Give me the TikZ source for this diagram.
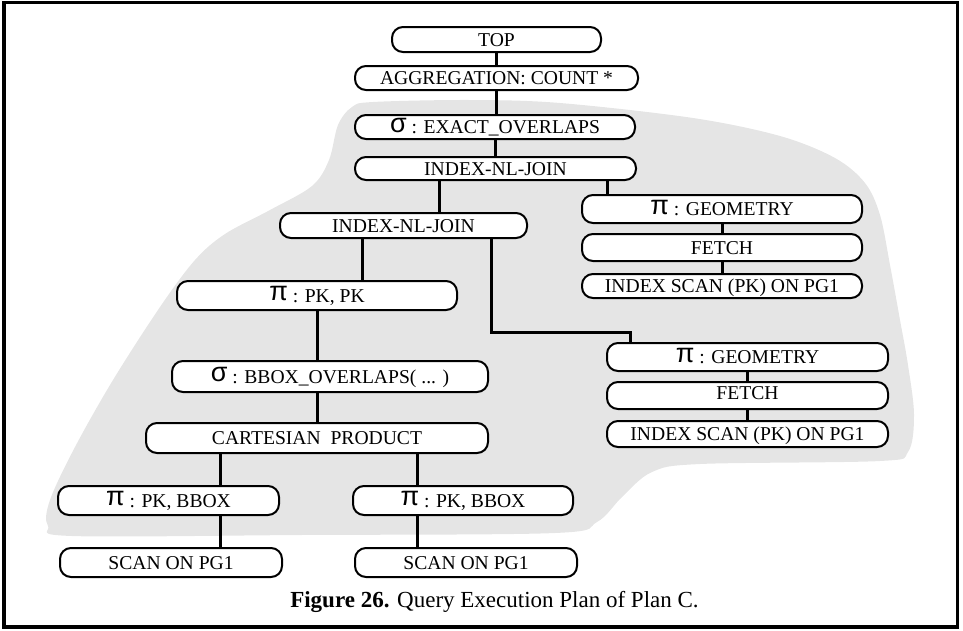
\documentclass[tikz,border=0pt]{standalone}
\usepackage{fontspec}
\setmainfont{Liberation Serif}
\newfontfamily\greekfont{Liberation Sans}
\newcommand{\gpi}{{\greekfont\fontsize{27}{27}\selectfont\raisebox{1.5pt}{π}}}
\newcommand{\gsigma}{{\greekfont\fontsize{27}{27}\selectfont\raisebox{1.5pt}{σ}}}
\begin{document}
\begin{tikzpicture}[x=1pt,y=-1pt,
  opbox/.style={draw, line width=2pt, fill=white, rounded corners=11pt,
    inner sep=0pt, text height=13pt, text depth=0pt,
    font=\fontsize{19.6}{19.6}\selectfont},
  link/.style={line width=3pt},
  outerframe/.style={line width=3.5pt},
  region/.style={fill=black!10}]
\useasboundingbox (0,0) rectangle (963,630);

% shaded region of the plan
\fill[region] plot[smooth cycle, tension=0.55] coordinates {
  (373,102) (470,100) (560,103) (693,118) (780,136) (835,158) (865,183)
  (880,215) (890,265) (900,320) (908,365) (914,415) (908,452) (880,461)
  (700,464) (652,472) (622,497) (597,522) (555,533) (300,535) (72,536)
  (48,526) (50,500) (75,447) (113,380) (160,307) (195,260) (225,234)
  (270,210) (312,186) (329,160) (338,125) (352,107)};

% operators
\node[opbox, minimum width=209pt, minimum height=25pt] (top)    at (496.5,39.5) {TOP};
\node[opbox, minimum width=283pt, minimum height=24pt] (agg)    at (496.5,78)   {AGGREGATION: COUNT *};
\node[opbox, minimum width=280pt, minimum height=24pt] (sige)   at (495,127)    {\gsigma\ : EXACT\_OVERLAPS};
\node[opbox, minimum width=281pt, minimum height=23pt] (inlj)   at (495.5,168.5){INDEX-NL-JOIN};
\node[opbox, minimum width=247pt, minimum height=25pt] (inljb)  at (403.5,225.5){INDEX-NL-JOIN};

\node[opbox, minimum width=280pt, minimum height=28pt] (pigA)   at (722,209)    {\gpi\ : GEOMETRY};
\node[opbox, minimum width=280pt, minimum height=27pt] (fetchA) at (722,247.5)  {FETCH};
\node[opbox, minimum width=280pt, minimum height=24pt] (isA)    at (722,286)    {INDEX SCAN (PK) ON PG1};

\node[opbox, minimum width=281pt, minimum height=28pt] (pigB)   at (747.5,357)  {\gpi\ : GEOMETRY};
\node[opbox, minimum width=281pt, minimum height=27pt, text depth=6pt] (fetchB) at (747.5,395.5){FETCH};
\node[opbox, minimum width=281pt, minimum height=26pt] (isB)    at (747.5,434)  {INDEX SCAN (PK) ON PG1};

\node[opbox, minimum width=280pt, minimum height=29pt] (pipk)   at (317,295.5)  {\gpi\ : PK, PK};
\node[opbox, minimum width=316pt, minimum height=31pt] (sigb)   at (330,376.5)  {\gsigma\ : BBOX\_OVERLAPS( ... )};
\node[opbox, minimum width=342pt, minimum height=30pt] (cart)   at (317,438)    {CARTESIAN~~PRODUCT};
\node[opbox, minimum width=221pt, minimum height=29pt] (pibL)   at (168.5,500.5){\gpi\ : PK, BBOX};
\node[opbox, minimum width=220pt, minimum height=29pt] (pibR)   at (463,500.5)  {\gpi\ : PK, BBOX};
\node[opbox, minimum width=222pt, minimum height=29pt] (scanL)  at (171,562.5)  {SCAN ON PG1};
\node[opbox, minimum width=222pt, minimum height=29pt] (scanR)  at (466,562.5)  {SCAN ON PG1};

% connector columns and elbow
\coordinate (colA) at (439,0);
\coordinate (colB) at (607.5,0);
\coordinate (colC) at (362,0);
\coordinate (colD) at (491,0);
\coordinate (elbow) at (630,332);
\coordinate (colL) at (220,0);
\coordinate (colR) at (417,0);

% connectors
\draw[link] (top.south) -- (top.south |- agg.north);
\draw[link] (agg.south) -- (agg.south |- sige.north);
\draw[link] (sige.south) -- (sige.south |- inlj.north);
\draw[link] (inlj.south -| colA) -- (inljb.north -| colA);
\draw[link] (inlj.south -| colB) -- (pigA.north -| colB);
\draw[link] (pigA.south) -- (fetchA.north);
\draw[link] (fetchA.south) -- (isA.north);
\draw[link] (inljb.south -| colC) -- (pipk.north -| colC);
\draw[link] (inljb.south -| colD) |- (elbow) -- (elbow |- pigB.north);
\draw[link] (pigB.south) -- (fetchB.north);
\draw[link] (fetchB.south) -- (isB.north);
\draw[link] (pipk.south) -- (pipk.south |- sigb.north);
\draw[link] (pipk.south |- sigb.south) -- (pipk.south |- cart.north);
\draw[link] (cart.south -| colL) -- (pibL.north -| colL);
\draw[link] (cart.south -| colR) -- (pibR.north -| colR);
\draw[link] (pibL.south -| colL) -- (scanL.north -| colL);
\draw[link] (pibR.south -| colR) -- (scanR.north -| colR);

% caption and frame
\node[anchor=base, font=\fontsize{23}{23}\selectfont] (caption) at (494.5,607)
  {\textbf{Figure 26.} Query Execution Plan of Plan C.};
\draw[outerframe] (4,2.5) rectangle (957.5,627);
\end{tikzpicture}
\end{document}
